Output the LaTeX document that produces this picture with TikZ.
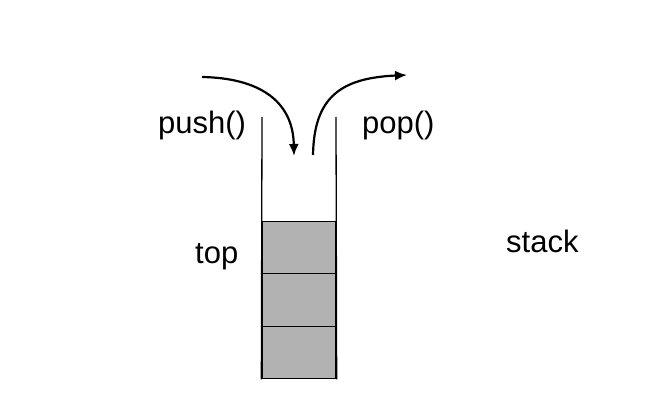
\documentclass[tikz,border=0pt]{standalone}
\usepackage{fontspec}
\setmainfont{Liberation Sans}
\usetikzlibrary{arrows.meta}
\begin{document}
\begin{tikzpicture}[x=1pt,y=-1pt,
  cell/.style={draw=black,fill=black!30,line width=1.3pt,minimum width=74pt,minimum height=52.5pt,inner sep=0pt},
  wall/.style={draw=black,line width=1.3pt},
  flow/.style={line width=2.2pt,-{Latex[length=12pt,width=10pt]}},
  lbl/.style={font=\fontsize{31}{36}\selectfont,inner sep=0pt}]
\useasboundingbox (0,0) rectangle (652,414);
\node[cell] (c1) at (299,247.5) {};
\node[cell] (c2) at (299,300) {};
\node[cell] (c3) at (299,352.5) {};
\coordinate (lt) at (262,117);
\coordinate (rt) at (336,117);
\draw[wall] (lt) -- (c3.south west);
\draw[wall] (rt) -- (c3.south east);
\coordinate (pushs) at (202,77);
\coordinate (pushe) at (294,156);
\coordinate (pops) at (313,155);
\coordinate (pope) at (407,75);
\draw[flow] (pushs) .. controls (258,78) and (293,100) .. (pushe);
\draw[flow] (pops) .. controls (314,96) and (342,78) .. (pope);
\node[lbl,anchor=base west] (push) at (158,134) {push()};
\node[lbl,anchor=base west] (pop) at (362,134) {pop()};
\node[lbl,anchor=base west] (top) at (195,263) {top};
\node[lbl,anchor=base west] (stack) at (506,252) {stack};
\end{tikzpicture}
\end{document}
